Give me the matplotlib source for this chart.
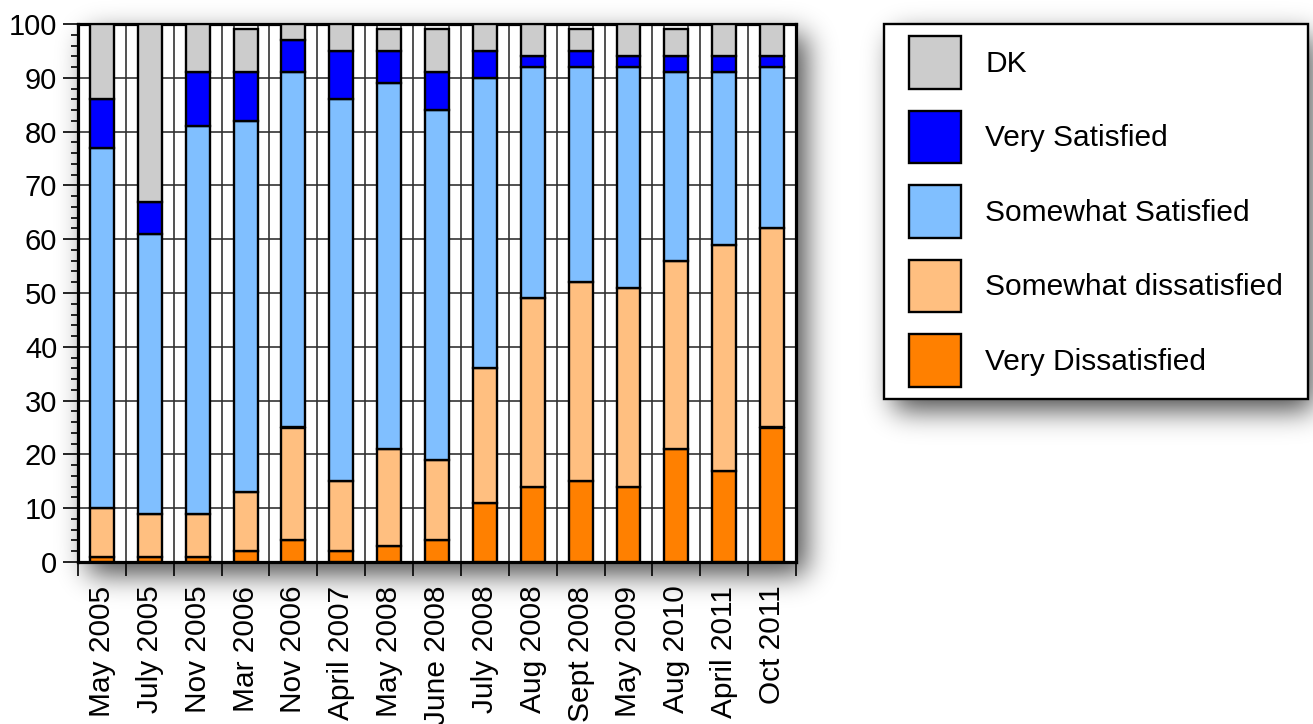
import numpy as np
import matplotlib
matplotlib.use('Agg')
from matplotlib import pyplot as plt
from matplotlib.patches import Patch, Rectangle

plt.rcParams['font.family'] = ['Liberation Sans', 'DejaVu Sans']

dates = ['May 2005', 'July 2005', 'Nov 2005', 'Mar 2006', 'Nov 2006', 'April 2007',
         'May 2008', 'June 2008', 'July 2008', 'Aug 2008', 'Sept 2008', 'May 2009',
         'Aug 2010', 'April 2011', 'Oct 2011']
very_dissatisfied = [1, 1, 1, 2, 4, 2, 3, 4, 11, 14, 15, 14, 21, 17, 25]
somewhat_dissatisfied = [9, 8, 8, 11, 21, 13, 18, 15, 25, 35, 37, 37, 35, 42, 37]
somewhat_satisfied = [67, 52, 72, 69, 66, 71, 68, 65, 54, 43, 40, 41, 35, 32, 30]
very_satisfied = [9, 6, 10, 9, 6, 9, 6, 7, 5, 2, 3, 2, 3, 3, 2]
dont_know = [14, 33, 9, 8, 3, 5, 4, 8, 5, 6, 4, 6, 5, 6, 6]

series = [
    ('Very Dissatisfied', very_dissatisfied, '#ff8000'),
    ('Somewhat dissatisfied', somewhat_dissatisfied, '#ffbf80'),
    ('Somewhat Satisfied', somewhat_satisfied, '#80bfff'),
    ('Very Satisfied', very_satisfied, '#0000ff'),
    ('DK', dont_know, '#cccccc'),
]

W, H = 1313, 724


def blur(img, sigma):
    r = int(3 * sigma)
    k = np.exp(-0.5 * (np.arange(-r, r + 1) / sigma) ** 2)
    k /= k.sum()
    for axis in (0, 1):
        pad = [(0, 0), (0, 0)]
        pad[axis] = (r, r)
        p = np.pad(img, pad)
        out = np.zeros_like(img)
        n = img.shape[axis]
        for i, w in enumerate(k):
            out += w * np.take(p, np.arange(i, i + n), axis=axis)
        img = out
    return img


def rect_mask(bb, dx, dy):
    # bb in display pixels (origin bottom-left) -> image rows from top
    m = np.zeros((H, W))
    x0, x1 = int(bb.x0 + dx), int(bb.x1 + dx)
    r0, r1 = int(H - bb.y1 + dy), int(H - bb.y0 + dy)
    m[max(r0, 0):r1, max(x0, 0):x1] = 1.0
    return m


fig = plt.figure(figsize=(W / 100, H / 100), dpi=100)
ax = fig.add_axes([78 / W, 1 - 562 / H, (796 - 78) / W, (562 - 24) / H])
ax.set_facecolor('white')

x = np.arange(len(dates))
bottom = np.zeros(len(dates))
for label, vals, color in series:
    ax.bar(x, vals, width=0.5, bottom=bottom, color=color, edgecolor='black',
           linewidth=1.7, zorder=3, label=label)
    bottom += np.array(vals)

# vertical grid: category boundaries plus quarter lines
edges = np.arange(len(dates) + 1) - 0.5
quarters = np.concatenate([x - 0.25, x + 0.25])
ax.vlines(np.concatenate([edges, quarters]), 0, 100, color='#333333', lw=1.2, zorder=1)

ax.set_xlim(-0.5, len(dates) - 0.5)
ax.set_ylim(0, 100)
ax.set_yticks(np.arange(0, 101, 10))
ax.set_yticks(np.arange(0, 101, 2), minor=True)
ax.yaxis.grid(True, which='major', color='#333333', lw=1.2, zorder=1)
ax.set_axisbelow(True)

ax.set_xticks(x)
ax.set_xticklabels(dates, rotation=90, ha='center', va='top')
ax.set_xticks(edges, minor=True)
ax.tick_params(axis='x', which='major', length=0, pad=17, labelsize=21.5)
ax.tick_params(axis='x', which='minor', length=10, width=1.2, direction='out')
ax.tick_params(axis='y', which='major', length=11, width=1.2, pad=4, labelsize=21)
ax.tick_params(axis='y', which='minor', length=5, width=1.2)
for sp in ax.spines.values():
    sp.set_linewidth(2.3)

handles = [Patch(facecolor=c, edgecolor='black', linewidth=1.7, label=l)
           for l, _, c in reversed(series)]
leg = fig.legend(handles=handles, loc='upper left',
                 bbox_to_anchor=(897 / W, 1 - 24 / H), borderaxespad=0,
                 frameon=False, fontsize=21.5, handlelength=1.74, handleheight=2.33,
                 labelspacing=0.735, handletextpad=0.8, borderpad=0.41)
leg.set_zorder(5)

fig.canvas.draw()
ax_bb = ax.get_window_extent()
lb = leg.get_window_extent()
frame = Rectangle((lb.x0 - 13, lb.y0), lb.width + 26, lb.height, transform=None,
                  facecolor='white', edgecolor='black', lw=1.7, zorder=4)
fig.add_artist(frame)
fig.canvas.draw()
fb = frame.get_window_extent()

# soft drop shadow behind the plot and legend
shade = blur(rect_mask(ax_bb, 10, 12) + rect_mask(fb, 10, 12), 14)
rgba = np.zeros((H, W, 4))
rgba[..., 3] = np.clip(shade, 0, 1) * 0.72
bg = fig.add_axes([0, 0, 1, 1], zorder=-10)
bg.imshow(rgba, extent=(0, W, H, 0), aspect='auto', interpolation='bilinear')
bg.set_xlim(0, W)
bg.set_ylim(H, 0)
bg.axis('off')

fig.savefig('out.png', dpi=100)
